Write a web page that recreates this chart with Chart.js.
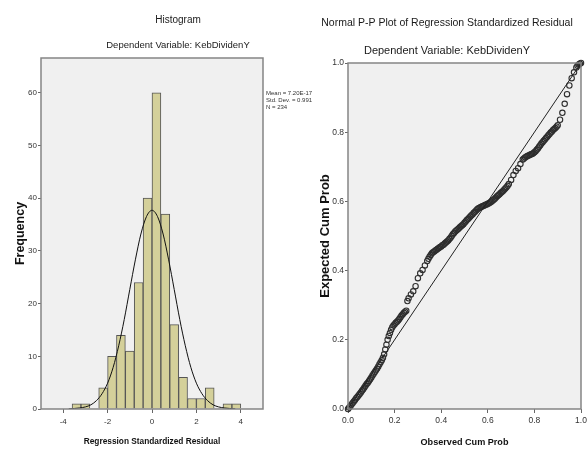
<!DOCTYPE html>
<html>
<head>
<meta charset="utf-8">
<script src="https://cdn.jsdelivr.net/npm/chart.js@4.4.1/dist/chart.umd.min.js"></script>
<style>
    html, body { margin: 0; padding: 0; background: #fff; width: 587px; height: 453px; overflow: hidden; }
    #histWrap { position: absolute; left: 0; top: 0; }
    #ppWrap { position: absolute; left: 313px; top: 0; }
</style>
</head>
<body>
<div id="histWrap"><canvas id="histChart" width="356" height="453"></canvas></div>
<div id="ppWrap"><canvas id="ppChart" width="274" height="453"></canvas></div>
<script>
// Histogram: bin centres (width 0.4) and frequencies
const histBins = [-3.4, -3.0, -2.6, -2.2, -1.8, -1.4, -1.0, -0.6, -0.2, 0.2, 0.6, 1.0, 1.4, 1.8, 2.2, 2.6, 3.0, 3.4, 3.8];
const histCounts = [1, 1, 0, 4, 10, 14, 11, 24, 40, 60, 37, 16, 6, 2, 2, 4, 0, 1, 1];

// Normal curve
const curveX = [-3.75, -3.5, -3.25, -3.0, -2.75, -2.5, -2.25, -2.0, -1.75, -1.5, -1.25, -1.0, -0.75, -0.5, -0.25, 0,
    0.25, 0.5, 0.75, 1.0, 1.25, 1.5, 1.75, 2.0, 2.25, 2.5, 2.75, 3.0, 3.25, 3.5, 3.75];
const curveY = [0.03, 0.1, 0.2, 0.4, 0.8, 1.6, 2.9, 4.9, 7.9, 12.0, 17.0, 22.7, 28.3, 33.2, 36.5, 37.7,
    36.5, 33.2, 28.3, 22.7, 17.0, 12.0, 7.9, 4.9, 2.9, 1.6, 0.8, 0.4, 0.2, 0.1, 0.03];

const histTicksX = [-4, -2, 0, 2, 4];
const histTicksY = [0, 10, 20, 30, 40, 50, 60];
const statLines = ['Mean = 7.20E-17', 'Std. Dev. = 0.991', 'N = 234'];

// P-P plot: observed vs expected cumulative probability
const ppObserved = [
    0.000, 0.005, 0.010, 0.015, 0.020, 0.025, 0.030, 0.035, 0.040, 0.045, 0.050, 0.055, 0.060, 0.065, 0.070, 0.075,
    0.080, 0.085, 0.090, 0.095, 0.100, 0.105, 0.110, 0.115, 0.120, 0.125, 0.130, 0.135, 0.140, 0.145, 0.150, 0.155,
    0.160, 0.165, 0.170, 0.175, 0.180, 0.185, 0.190, 0.195, 0.200, 0.205, 0.210, 0.215, 0.220, 0.225, 0.230, 0.235,
    0.240, 0.245, 0.250, 0.255, 0.260, 0.270, 0.280, 0.290, 0.300, 0.310, 0.320, 0.330, 0.340, 0.345, 0.350, 0.355,
    0.360, 0.365, 0.370, 0.375, 0.380, 0.385, 0.390, 0.395, 0.400, 0.405, 0.410, 0.415, 0.420, 0.425, 0.430, 0.435,
    0.440, 0.445, 0.450, 0.455, 0.460, 0.465, 0.470, 0.475, 0.480, 0.485, 0.490, 0.495, 0.500, 0.505, 0.510, 0.515,
    0.520, 0.525, 0.530, 0.535, 0.540, 0.545, 0.550, 0.555, 0.560, 0.565, 0.570, 0.575, 0.580, 0.585, 0.590, 0.595,
    0.600, 0.605, 0.610, 0.615, 0.620, 0.625, 0.630, 0.635, 0.640, 0.645, 0.650, 0.655, 0.660, 0.665, 0.670, 0.675,
    0.680, 0.685, 0.690, 0.700, 0.710, 0.720, 0.730, 0.740, 0.750, 0.755, 0.760, 0.765, 0.770, 0.775, 0.780, 0.785,
    0.790, 0.795, 0.800, 0.805, 0.810, 0.815, 0.820, 0.825, 0.830, 0.835, 0.840, 0.845, 0.850, 0.855, 0.860, 0.865,
    0.870, 0.875, 0.880, 0.885, 0.890, 0.895, 0.900, 0.910, 0.920, 0.930, 0.940, 0.950, 0.960, 0.970, 0.980, 0.985,
    0.990, 0.995, 1.000];
const ppExpected = [
    0.000, 0.004, 0.008, 0.013, 0.017, 0.022, 0.026, 0.031, 0.035, 0.039, 0.043, 0.048, 0.053, 0.057, 0.062, 0.067,
    0.072, 0.076, 0.081, 0.086, 0.091, 0.097, 0.102, 0.107, 0.112, 0.117, 0.123, 0.129, 0.135, 0.141, 0.148, 0.158,
    0.172, 0.186, 0.200, 0.211, 0.220, 0.229, 0.236, 0.241, 0.245, 0.249, 0.252, 0.256, 0.260, 0.265, 0.270, 0.274,
    0.278, 0.281, 0.284, 0.312, 0.320, 0.331, 0.340, 0.355, 0.378, 0.392, 0.402, 0.415, 0.428, 0.434, 0.440, 0.445,
    0.450, 0.453, 0.455, 0.458, 0.460, 0.463, 0.465, 0.468, 0.470, 0.473, 0.475, 0.478, 0.481, 0.484, 0.487, 0.491,
    0.495, 0.500, 0.505, 0.509, 0.513, 0.516, 0.519, 0.522, 0.525, 0.528, 0.531, 0.534, 0.538, 0.542, 0.546, 0.549,
    0.553, 0.556, 0.560, 0.563, 0.567, 0.570, 0.574, 0.577, 0.580, 0.582, 0.584, 0.585, 0.587, 0.588, 0.590, 0.591,
    0.593, 0.595, 0.597, 0.599, 0.602, 0.605, 0.608, 0.611, 0.615, 0.618, 0.621, 0.624, 0.627, 0.630, 0.634, 0.637,
    0.641, 0.645, 0.650, 0.662, 0.676, 0.688, 0.696, 0.708, 0.721, 0.724, 0.727, 0.729, 0.731, 0.733, 0.734, 0.736,
    0.737, 0.739, 0.742, 0.745, 0.749, 0.753, 0.758, 0.762, 0.767, 0.771, 0.775, 0.779, 0.783, 0.787, 0.791, 0.795,
    0.799, 0.802, 0.806, 0.809, 0.812, 0.816, 0.820, 0.836, 0.856, 0.882, 0.910, 0.935, 0.956, 0.973, 0.987, 0.992,
    0.996, 0.998, 1.000];
const ppTicks = [0, 0.2, 0.4, 0.6, 0.8, 1.0];

const sans = "'Liberation Sans', Arial, sans-serif";

// grey plot background and frame, like SPSS
const plotFrame = {
    id: 'plotFrame',
    beforeDraw(chart) {
        const { ctx, chartArea: a } = chart;
        ctx.save();
        ctx.fillStyle = '#f0f0f0';
        ctx.fillRect(a.left, a.top, a.right - a.left, a.bottom - a.top);
        ctx.restore();
    },
    afterDraw(chart) {
        const { ctx, chartArea: a } = chart;
        ctx.save();
        ctx.strokeStyle = '#858585';
        ctx.lineWidth = 1.5;
        ctx.strokeRect(a.left, a.top, a.right - a.left, a.bottom - a.top);
        ctx.restore();
    }
};

const statsText = {
    id: 'statsText',
    afterDraw(chart) {
        const { ctx, chartArea: a } = chart;
        ctx.save();
        ctx.font = '6px ' + sans;
        ctx.fillStyle = '#333';
        ctx.textBaseline = 'middle';
        statLines.forEach((t, i) => ctx.fillText(t, a.right + 3, 93 + i * 7));
        ctx.restore();
    }
};

const fixTicks = values => scale => { scale.ticks = values.map(v => ({ value: v })); };
const fixSize = (prop, size) => scale => {
    scale[prop] = size;
    scale.paddingLeft = 0; scale.paddingRight = 0; scale.paddingTop = 0; scale.paddingBottom = 0;
};
const tickGrid = len => ({ drawOnChartArea: false, drawTicks: true, tickLength: len, color: '#666', offset: false });

new Chart(document.getElementById('histChart'), {
    type: 'bar',
    data: {
        datasets: [
            {
                type: 'line',
                data: curveX.map((x, i) => ({ x: x, y: curveY[i] })),
                borderColor: '#111',
                borderWidth: 1,
                pointRadius: 0,
                tension: 0.4,
                cubicInterpolationMode: 'monotone'
            },
            {
                type: 'bar',
                data: histBins.map((x, i) => ({ x: x, y: histCounts[i] })),
                backgroundColor: '#d4d09a',
                borderColor: '#555',
                borderWidth: 1,
                barPercentage: 1,
                categoryPercentage: 1
            }
        ]
    },
    options: {
        responsive: false,
        animation: false,
        layout: { padding: 0 },
        plugins: {
            legend: { display: false },
            tooltip: { enabled: false },
            title: {
                display: true, text: 'Histogram', color: '#1a1a1a',
                font: { family: sans, size: 10, weight: 'normal' },
                padding: { top: 14, bottom: 10 }
            },
            subtitle: {
                display: true, text: 'Dependent Variable: KebDividenY', color: '#1a1a1a',
                font: { family: sans, size: 9.5, weight: 'normal' },
                padding: { top: 3.3, bottom: 7.3 }
            }
        },
        scales: {
            x: {
                type: 'linear', min: -5, max: 5, offset: false,
                afterBuildTicks: fixTicks(histTicksX),
                afterFit: fixSize('height', 44),
                grid: tickGrid(4),
                border: { display: false },
                ticks: { font: { family: sans, size: 8 }, color: '#333', padding: 4, maxRotation: 0, autoSkip: false },
                title: {
                    display: true, text: 'Regression Standardized Residual', color: '#111',
                    font: { family: sans, size: 8.3, weight: 'bold' },
                    padding: { top: 0, bottom: 6 }
                }
            },
            y: {
                min: 0, max: 66.6,
                afterBuildTicks: fixTicks(histTicksY),
                afterFit: fixSize('width', 41),
                grid: tickGrid(3),
                border: { display: false },
                ticks: { font: { family: sans, size: 8 }, color: '#333', padding: 1 },
                title: {
                    display: true, text: 'Frequency', color: '#111',
                    font: { family: sans, size: 12.5, weight: 'bold' },
                    padding: { top: 13.5, bottom: 0 }
                }
            },
            // empty strip on the right that holds the Mean / Std. Dev. / N note
            statsSide: {
                position: 'right',
                afterFit: fixSize('width', 93),
                grid: { display: false },
                border: { display: false },
                ticks: { display: false }
            }
        }
    },
    plugins: [plotFrame, statsText]
});

new Chart(document.getElementById('ppChart'), {
    type: 'scatter',
    data: {
        datasets: [
            {
                type: 'line',
                data: [{ x: 0, y: 0 }, { x: 1, y: 1 }],
                borderColor: '#222',
                borderWidth: 1,
                pointRadius: 0
            },
            {
                data: ppObserved.map((x, i) => ({ x: x, y: ppExpected[i] })),
                pointRadius: 2.7,
                pointBorderWidth: 1.1,
                borderColor: '#2e2e2e',
                backgroundColor: 'rgba(0,0,0,0)',
                clip: 4
            }
        ]
    },
    options: {
        responsive: false,
        animation: false,
        layout: { padding: { left: 0, right: 6, top: 0, bottom: 0 } },
        plugins: {
            legend: { display: false },
            tooltip: { enabled: false },
            title: {
                display: true, text: 'Normal P-P Plot of Regression Standardized Residual', color: '#1a1a1a',
                font: { family: sans, size: 10.5, weight: 'normal' },
                padding: { top: 16.7, bottom: 10 }
            },
            subtitle: {
                display: true, text: 'Dependent Variable: KebDividenY', color: '#1a1a1a',
                font: { family: sans, size: 11, weight: 'normal' },
                padding: { top: 5.1, bottom: 5.4 }
            }
        },
        scales: {
            x: {
                type: 'linear', min: 0, max: 1,
                afterBuildTicks: fixTicks(ppTicks),
                afterFit: fixSize('height', 44),
                grid: tickGrid(4),
                border: { display: false },
                ticks: { font: { family: sans, size: 8.5 }, color: '#333', padding: 3, maxRotation: 0, autoSkip: false,
                    callback: v => v.toFixed(1) },
                title: {
                    display: true, text: 'Observed Cum Prob', color: '#111',
                    font: { family: sans, size: 9.1, weight: 'bold' },
                    padding: { top: 0, bottom: 5.5 }
                }
            },
            y: {
                min: 0, max: 1,
                afterBuildTicks: fixTicks(ppTicks),
                afterFit: fixSize('width', 35),
                grid: tickGrid(3),
                border: { display: false },
                ticks: { font: { family: sans, size: 8.5 }, color: '#333', padding: 1,
                    callback: v => v.toFixed(1) },
                title: {
                    display: true, text: 'Expected Cum Prob', color: '#111',
                    font: { family: sans, size: 13, weight: 'bold' },
                    padding: { top: 4.2, bottom: 0 }
                }
            }
        }
    },
    plugins: [plotFrame]
});
</script>
</body>
</html>
